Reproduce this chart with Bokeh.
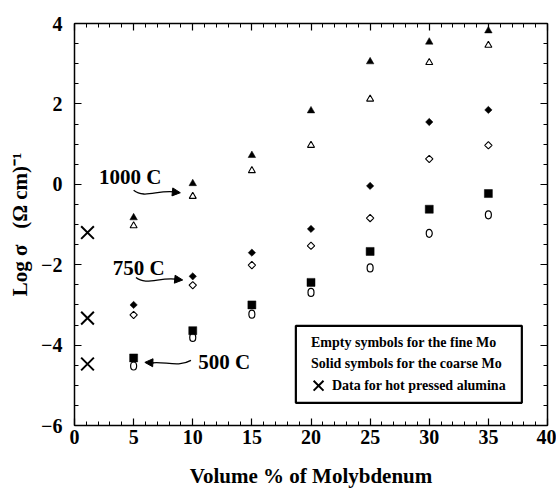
import numpy as np
from bokeh.plotting import figure
from bokeh.models import (LinearAxis, SingleIntervalTicker, Label, BoxAnnotation,
                          Arrow, NormalHead, Range1d, CustomJSTickFormatter)
from bokeh.embed import file_html
from bokeh.resources import INLINE

# ---- data ----
mo = [5, 10, 15, 20, 25, 30, 35]
coarse_1000 = [-0.83, 0.02, 0.72, 1.83, 3.05, 3.54, 3.82]
fine_1000 = [-1.03, -0.30, 0.34, 0.97, 2.12, 3.03, 3.46]
coarse_750 = [-3.00, -2.29, -1.70, -1.11, -0.04, 1.55, 1.85]
fine_750 = [-3.25, -2.51, -2.01, -1.53, -0.84, 0.63, 0.97]
coarse_500 = [-4.32, -3.64, -3.00, -2.44, -1.67, -0.62, -0.23]
fine_500 = [-4.52, -3.81, -3.23, -2.69, -2.08, -1.22, -0.76]
alumina_x = [1.1, 1.1, 1.1]
alumina_y = [-1.20, -3.33, -4.47]

x_label = "Volume % of Molybdenum"
y_label = "Log σ \u2002(Ω cm)⁻¹"
legend_lines = ["Empty symbols for the fine Mo",
                "Solid symbols for the coarse Mo",
                "Data for hot pressed alumina"]
temp_labels = ["1000 C", "750 C", "500 C"]

FONT = "Liberation Serif"

p = figure(width=556, height=490, x_range=Range1d(0, 40), y_range=Range1d(-6, 4),
           output_backend="svg", toolbar_location=None,
           min_border_left=74, min_border_right=9, min_border_top=23, min_border_bottom=65,
           x_axis_label=x_label, y_axis_label=y_label)
p.grid.visible = False
p.outline_line_color = None
p.background_fill_color = "white"
p.border_fill_color = "white"

bottom_ax = p.below[0]
left_ax = p.left[0]
bottom_ax.ticker = SingleIntervalTicker(interval=5, num_minor_ticks=5)
left_ax.ticker = SingleIntervalTicker(interval=2, num_minor_ticks=4)

top_ax = LinearAxis(ticker=SingleIntervalTicker(interval=5, num_minor_ticks=5),
                    formatter=CustomJSTickFormatter(code="return ''"))
right_ax = LinearAxis(ticker=SingleIntervalTicker(interval=2, num_minor_ticks=4),
                      formatter=CustomJSTickFormatter(code="return ''"))
p.add_layout(top_ax, "above")
p.add_layout(right_ax, "right")

for ax in [bottom_ax, left_ax, top_ax, right_ax]:
    ax.axis_line_width = 1.5
    ax.axis_line_color = "black"
    ax.major_tick_in = 7
    ax.major_tick_out = 0
    ax.minor_tick_in = 4
    ax.minor_tick_out = 0
    ax.major_tick_line_width = 1.2
    ax.minor_tick_line_width = 1
    ax.major_tick_line_color = "black"
    ax.minor_tick_line_color = "black"
    ax.major_label_text_font = FONT
    ax.major_label_text_font_style = "bold"
    ax.major_label_text_font_size = "20px"
    ax.major_label_text_color = "black"
    ax.axis_label_text_font = FONT
    ax.axis_label_text_font_style = "bold"
    ax.axis_label_text_font_size = "21px"
    ax.axis_label_text_color = "black"

for ax in [top_ax, right_ax]:
    ax.major_label_standoff = 0
    ax.major_label_text_font_size = "0px"

bottom_ax.major_label_standoff = 4
bottom_ax.axis_label_standoff = 17
left_ax.major_label_standoff = 12
left_ax.axis_label_standoff = 6

# ---- open (fine) symbols first ----
p.scatter(mo, fine_1000, marker="triangle", size=7, fill_color=None,
          line_color="black", line_width=1.1)
p.scatter(mo, fine_750, marker="square", angle=np.pi / 4, size=5.2, fill_color=None,
          line_color="black", line_width=1.1)
p.ellipse(mo, fine_500, width=6, height=8, width_units="screen", height_units="screen",
          fill_color=None, line_color="black", line_width=1.2)

# ---- solid (coarse) symbols ----
p.scatter(mo, coarse_1000, marker="triangle", size=7.5, fill_color="black",
          line_color="black", line_width=0.5)
p.scatter(mo, coarse_750, marker="square", angle=np.pi / 4, size=5.2, fill_color="black",
          line_color="black", line_width=0.5)
p.scatter(mo, coarse_500, marker="square", size=8, fill_color="black",
          line_color="black", line_width=0.5)

# ---- alumina ----
p.scatter(alumina_x, alumina_y, marker="x", size=18, line_color="black", line_width=2)

# ---- temperature annotations with curved arrows ----
lab_kw = dict(text_font=FONT, text_font_style="bold", text_font_size="21px",
              text_baseline="middle", text_align="left", text_color="black")
p.add_layout(Label(x=2.07, y=0.17, text=temp_labels[0], **lab_kw))
p.add_layout(Label(x=3.23, y=-2.07, text=temp_labels[1], **lab_kw))
p.add_layout(Label(x=10.46, y=-4.43, text=temp_labels[2], **lab_kw))

p.bezier(x0=[5.0, 5.2, 9.85], y0=[-0.15, -2.32, -4.38],
         x1=[8.45, 8.55, 6.6], y1=[-0.19, -2.36, -4.44],
         cx0=[5.9, 6.0, 8.8], cy0=[-0.36, -2.52, -4.56],
         cx1=[7.0, 7.2, 7.6], cy1=[-0.14, -2.31, -4.40],
         line_color="black", line_width=1.3)
for xs, ys, xe, ye in [(8.3, -0.19, 8.95, -0.21), (8.45, -2.36, 9.15, -2.38),
                       (6.7, -4.44, 5.95, -4.43)]:
    p.add_layout(Arrow(end=NormalHead(size=8, fill_color="black", line_color="black",
                                      line_width=1),
                       x_start=xs, y_start=ys, x_end=xe, y_end=ye,
                       line_color="black", line_width=1.3))

# ---- legend box ----
p.add_layout(BoxAnnotation(left=18.72, right=37.83, top=-3.52, bottom=-5.435,
                           fill_color=None, line_color="black", line_width=2.2,
                           line_alpha=1))
leg_kw = dict(text_font=FONT, text_font_style="bold", text_font_size="14px",
              text_baseline="middle", text_align="left", text_color="black")
p.add_layout(Label(x=20.0, y=-3.94, text=legend_lines[0], **leg_kw))
p.add_layout(Label(x=20.0, y=-4.47, text=legend_lines[1], **leg_kw))
p.add_layout(Label(x=21.77, y=-5.01, text=legend_lines[2], **leg_kw))
p.scatter([20.64], [-5.01], marker="x", size=14, line_color="black", line_width=2)

open("out.html", "w").write(file_html(p, INLINE))
